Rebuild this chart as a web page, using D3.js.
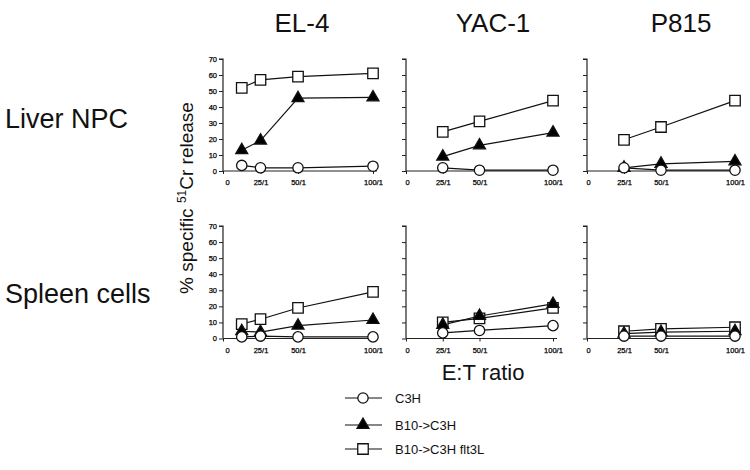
<!DOCTYPE html>
<html><head><meta charset="utf-8">
<script src="https://cdn.jsdelivr.net/npm/d3@7"></script>
<style>
body{margin:0;background:#fff;}
svg{font-family:"Liberation Sans",Arial,Helvetica,sans-serif;}
</style></head>
<body><svg id="c" width="750" height="470"></svg>
<script>
// ---- data ----
const targets = ["EL-4", "YAC-1", "P815"];
const rows = ["Liver NPC", "Spleen cells"];
const seriesNames = ["C3H", "B10->C3H", "B10->C3H flt3L"];
const xTickValues = [0, 25, 50, 100];
const xTickLabels = ["0", "25/1", "50/1", "100/1"];
const yTickValues = [0, 10, 20, 30, 40, 50, 60, 70];
const ratiosEL4 = [12.5, 25, 50, 100];
const ratiosOther = [25, 50, 100];

// Liver NPC
const liverEL4_C3H = [3.5, 2, 2, 3];
const liverEL4_B10 = [13, 19, 45.5, 46];
const liverEL4_flt = [52, 57, 59, 61];
const liverYAC_C3H = [2, 0.5, 0.5];
const liverYAC_B10 = [9, 16, 24];
const liverYAC_flt = [24.5, 31, 44];
const liverP815_C3H = [2, 0.5, 0.5];
const liverP815_B10 = [2, 4.5, 6];
const liverP815_flt = [19.5, 27.5, 44];
// Spleen cells
const spleenEL4_C3H = [1, 1.5, 1, 1];
const spleenEL4_B10 = [4.5, 4, 8, 11.5];
const spleenEL4_flt = [9, 12, 19, 29];
const spleenYAC_C3H = [3.5, 5, 8];
const spleenYAC_B10 = [8.5, 14, 21.5];
const spleenYAC_flt = [10, 12.5, 19];
const spleenP815_C3H = [1.5, 1.5, 1.5];
const spleenP815_B10 = [3, 4, 4.5];
const spleenP815_flt = [4.5, 6, 7];

const panelData = [
  [[liverEL4_C3H, liverEL4_B10, liverEL4_flt], [liverYAC_C3H, liverYAC_B10, liverYAC_flt], [liverP815_C3H, liverP815_B10, liverP815_flt]],
  [[spleenEL4_C3H, spleenEL4_B10, spleenEL4_flt], [spleenYAC_C3H, spleenYAC_B10, spleenYAC_flt], [spleenP815_C3H, spleenP815_B10, spleenP815_flt]]
];
const panelRatios = [ratiosEL4, ratiosOther, ratiosOther];

// ---- layout ----
const svg = d3.select("#c");
const colX = [[223, 373], [406, 553], [587, 735]];
const rowY = [[171, 59], [338.5, 226]];
const titleX = [302, 493, 681];
const rowLabelY = [128, 303];
const zeroDx = [4, 1, 1];

const symbols = [d3.symbolCircle, d3.symbolTriangle, d3.symbolSquare];
const symSize = [84, 62, 110];
const symFill = ["#fff", "#000", "#fff"];

targets.forEach((t, i) => {
  svg.append("text").attr("x", titleX[i]).attr("y", 32).attr("text-anchor", "middle")
    .attr("font-size", 26).attr("fill", "#111").text(t);
});
rows.forEach((r, j) => {
  svg.append("text").attr("x", 5).attr("y", rowLabelY[j]).attr("font-size", 27)
    .attr("fill", "#111").text(r);
});

// y-axis title
const yt = svg.append("text").attr("transform", "translate(193,198) rotate(-90)")
  .attr("text-anchor", "middle").attr("font-size", 19).attr("fill", "#111");
yt.append("tspan").text("% specific ");
yt.append("tspan").attr("font-size", 12).attr("dy", -7).text("51");
yt.append("tspan").attr("dy", 7).text("Cr release");

rows.forEach((r, j) => {
  targets.forEach((t, i) => {
    const x = d3.scaleLinear().domain([0, 100]).range(colX[i]);
    const y = d3.scaleLinear().domain([0, 70]).range(rowY[j]);
    const g = svg.append("g");
    // y axis
    const ya = d3.axisLeft(y).tickValues(yTickValues).tickSize(4).tickPadding(2)
      .tickFormat(i === 0 ? d3.format("d") : () => "");
    const yg = g.append("g").attr("transform", `translate(${colX[i][0]},0)`).call(ya);
    yg.select(".domain").attr("d", `M-4,${y(70)}H0V${y(0)}`);
    // x axis
    const xa = d3.axisBottom(x).tickValues(xTickValues).tickSize(3).tickPadding(6)
      .tickFormat((d, k) => xTickLabels[k]);
    const xg = g.append("g").attr("transform", `translate(0,${y(0)})`).call(xa);
    xg.select(".domain").attr("d", `M${x(0)},0H${x(100) + 4}`);
    g.selectAll(".tick text").attr("font-size", 7.5).attr("font-family", "Liberation Sans, Arial, sans-serif")
      .attr("fill", "#000").attr("stroke", "#000").attr("stroke-width", 0.25);
    g.selectAll(".tick line").attr("stroke", "#222");
    g.selectAll(".domain").attr("stroke", "#222").attr("stroke-width", 1.2);
    xg.selectAll(".tick text").filter((d) => d === 0).attr("dx", zeroDx[i]);

    const ratios = panelRatios[i];
    const line = d3.line().x((d) => x(d[0])).y((d) => y(d[1]));
    const series = panelData[j][i];
    // lines
    [2, 1, 0].forEach((s) => {
      const pts = ratios.map((rv, k) => [rv, series[s][k]]);
      g.append("path").attr("d", line(pts)).attr("fill", "none").attr("stroke", "#111").attr("stroke-width", 1.2);
    });
    // markers: squares, triangles, circles
    [2, 1, 0].forEach((s) => {
      ratios.forEach((rv, k) => {
        g.append("path").attr("d", d3.symbol().type(symbols[s]).size(symSize[s])())
          .attr("transform", `translate(${x(rv)},${y(series[s][k])})`)
          .attr("fill", symFill[s]).attr("stroke", "#111").attr("stroke-width", 1.3);
      });
    });
  });
});

// x-axis title
svg.append("text").attr("x", 483).attr("y", 380).attr("text-anchor", "middle")
  .attr("font-size", 22).attr("fill", "#111").text("E:T ratio");

// legend
const legY = [398, 425, 449];
seriesNames.forEach((n, s) => {
  svg.append("line").attr("x1", 345).attr("x2", 382).attr("y1", legY[s]).attr("y2", legY[s])
    .attr("stroke", "#111").attr("stroke-width", 1.2);
  svg.append("path").attr("d", d3.symbol().type(symbols[s]).size(symSize[s])())
    .attr("transform", `translate(363,${legY[s]})`).attr("fill", symFill[s])
    .attr("stroke", "#111").attr("stroke-width", 1.3);
  svg.append("text").attr("x", 395).attr("y", legY[s] + 5).attr("font-size", 13)
    .attr("fill", "#111").text(n);
});
</script></body></html>
